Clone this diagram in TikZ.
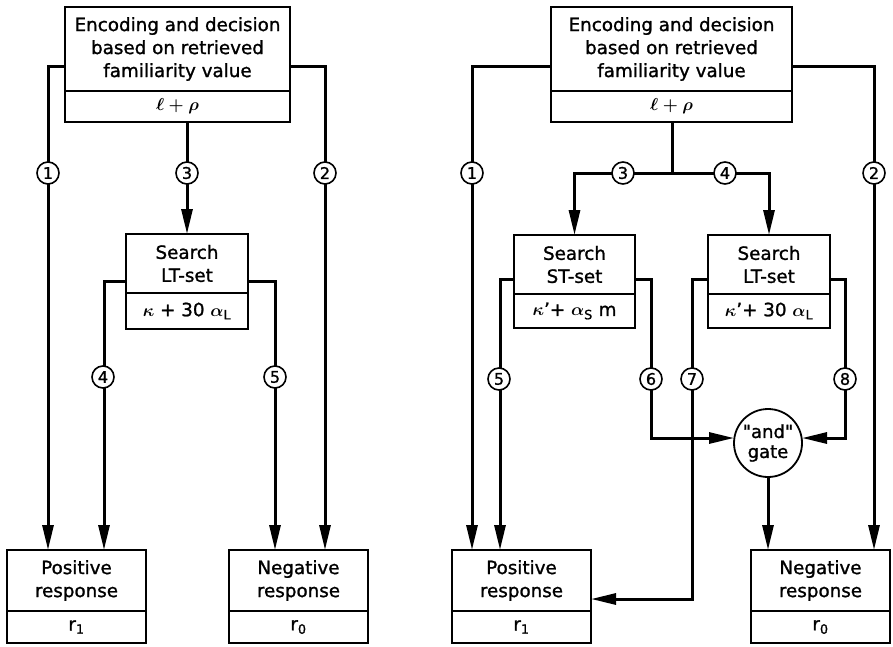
\documentclass[tikz,border=0pt]{standalone}
\usepackage{fontspec}
\setmainfont{DejaVu Sans}[BoldFont={DejaVu Sans},BoldFeatures={FakeBold=1.2}]
\newfontfamily\quotefont{DejaVu Sans}[BoldFont={DejaVu Sans},BoldFeatures={FakeBold=1.2}]
\usetikzlibrary{arrows.meta}
\begin{document}
\begin{tikzpicture}[x=1pt,y=-1pt,
  font=\fontsize{18.3}{23}\selectfont\bfseries\boldmath,
  box/.style={draw,line width=1.8pt,rectangle,inner sep=0pt,outer sep=0pt,
    align=center,fill=white},
  flow/.style={line width=3pt,line cap=butt,line join=miter},
  tip/.style={-{Triangle[length=25pt,width=11pt]}},
  num/.style={draw,circle,line width=1.6pt,fill=white,minimum size=22pt,
    inner sep=0pt,font=\fontsize{16}{16}\selectfont\bfseries},
  gatestyle/.style={draw,circle,line width=1.8pt,fill=white,minimum size=68pt,
    inner sep=0pt,outer sep=0pt,align=center,
    font=\fontsize{18}{20}\selectfont\bfseries}]
\useasboundingbox (0,0) rectangle (893,646);
\fill[white] (0,0) rectangle (893,646);

% ---------------- left scheme ----------------
\node[box,minimum width=225pt,minimum height=84pt] (enc) at (177.5,49)
  {Encoding and decision\\based on retrieved\\familiarity value};
\node[box,minimum width=225pt,minimum height=31pt] (encv) at (177.5,106.5)
  {$\ell+\rho$};
\node[box,minimum width=122pt,minimum height=59pt] (srch) at (187,263.5)
  {Search\\LT-set};
\node[box,minimum width=122pt,minimum height=36pt] (srchv) at (187,311)
  {$\kappa$ + 30 $\alpha$\textsubscript{L}};
\node[box,minimum width=139pt,minimum height=61pt] (pos) at (76.5,580.5)
  {Positive\\response};
\node[box,minimum width=139pt,minimum height=32pt] (posv) at (76.5,627)
  {r\textsubscript{1}};
\node[box,minimum width=139pt,minimum height=61pt] (neg) at (298.5,580.5)
  {Negative\\response};
\node[box,minimum width=139pt,minimum height=32pt] (negv) at (298.5,627)
  {r\textsubscript{0}};

\draw[flow,tip] ([yshift=-17pt]enc.west) -| ([xshift=-28.5pt]pos.north);
\draw[flow,tip] ([yshift=-17pt]enc.east) -| ([xshift=26.5pt]neg.north);
\draw[flow,tip] (srch.north |- encv.south) -- (srch.north);
\draw[flow,tip] ([yshift=-17.5pt]srch.west) -| ([xshift=27.5pt]pos.north);
\draw[flow,tip] ([yshift=-17.5pt]srch.east) -| ([xshift=-23.5pt]neg.north);

\node[num] (l1) at (48,173) {1};
\node[num] (l3) at (187,173) {3};
\node[num] (l2) at (325,173) {2};
\node[num] (l4) at (103,377) {4};
\node[num] (l5) at (275,377) {5};

% ---------------- right scheme ----------------
\node[box,minimum width=241pt,minimum height=84pt] (enc2) at (671.5,49)
  {Encoding and decision\\based on retrieved\\familiarity value};
\node[box,minimum width=241pt,minimum height=31pt] (enc2v) at (671.5,106.5)
  {$\ell+\rho$};
\node[box,minimum width=121pt,minimum height=59pt] (st) at (574.5,264.5)
  {Search\\ST-set};
\node[box,minimum width=121pt,minimum height=34pt] (stv) at (574.5,311)
  {$\kappa$'+ $\alpha$\textsubscript{S} m};
\node[box,minimum width=122pt,minimum height=59pt] (lt) at (769,264.5)
  {Search\\LT-set};
\node[box,minimum width=122pt,minimum height=34pt] (ltv) at (769,311)
  {$\kappa$'+ 30 $\alpha$\textsubscript{L}};
\node[gatestyle] (gate) at (768,443) {{\quotefont"}and{\quotefont"}\\gate};
\node[box,minimum width=139pt,minimum height=61pt] (pos2) at (521.5,580.5)
  {Positive\\response};
\node[box,minimum width=139pt,minimum height=32pt] (pos2v) at (521.5,627)
  {r\textsubscript{1}};
\node[box,minimum width=139pt,minimum height=61pt] (neg2) at (820.5,580.5)
  {Negative\\response};
\node[box,minimum width=139pt,minimum height=32pt] (neg2v) at (820.5,627)
  {r\textsubscript{0}};

\coordinate (j) at (672,173);
\coordinate (c6) at (651,438);
\coordinate (c8) at (845,438);
\coordinate (c7) at (692,599);

\draw[flow,tip] ([yshift=-17pt]enc2.west) -| ([xshift=-49.5pt]pos2.north);
\draw[flow,tip] ([yshift=-17pt]enc2.east) -| ([xshift=53.5pt]neg2.north);
\draw[flow] (j |- enc2v.south) -- (j);
\draw[flow,tip] (j) -| (st.north);
\draw[flow,tip] (j) -| (lt.north);
\draw[flow,tip] ([yshift=-15pt]st.west) -| ([xshift=-21.5pt]pos2.north);
\draw[flow,tip] ([yshift=-15pt]st.east) -| (c6) -- (gate.west |- c6);
\draw[flow,tip] ([yshift=-15pt]lt.east) -| (c8) -- (gate.east |- c8);
\draw[flow,tip] ([yshift=-15pt]lt.west) -| (c7) -- (pos2.east |- c7);
\draw[flow,tip] (gate.south) -- (gate.south |- neg2.north);

\node[num] (r1) at (472,173) {1};
\node[num] (r3) at (623,173) {3};
\node[num] (r4) at (725,173) {4};
\node[num] (r2) at (874,173) {2};
\node[num] (r5) at (499,379) {5};
\node[num] (r6) at (651,379) {6};
\node[num] (r7) at (692,379) {7};
\node[num] (r8) at (845,379) {8};
\end{tikzpicture}
\end{document}
